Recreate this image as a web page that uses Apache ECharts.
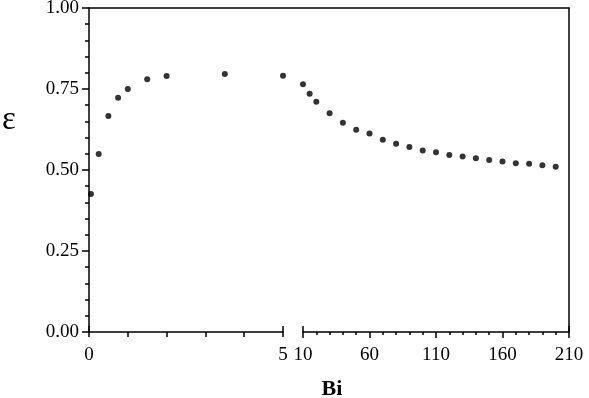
<!DOCTYPE html>
<html>
<head>
<meta charset="utf-8">
<script src="https://cdn.jsdelivr.net/npm/echarts@6/dist/echarts.min.js"></script>
<style>
  html, body { margin: 0; padding: 0; background: #fff; }
  #chart { width: 589px; height: 398px; }
</style>
</head>
<body>
<div id="chart"></div>
<script>
// left panel, Bi 0..5
const biLow = [0.05, 0.25, 0.5, 0.75, 1.0, 1.5, 2.0, 3.5, 5.0]
const epsLow = [0.426, 0.549, 0.667, 0.723, 0.750, 0.780, 0.790, 0.796, 0.791]
// right panel, Bi 10..210
const biHigh = [10, 15, 20, 30, 40, 50, 60, 70, 80, 90, 100, 110, 120, 130, 140, 150, 160, 170, 180, 190, 200]
const epsHigh = [0.765, 0.735, 0.711, 0.675, 0.646, 0.624, 0.613, 0.593, 0.581, 0.571, 0.560,
  0.555, 0.546, 0.542, 0.536, 0.531, 0.526, 0.521, 0.519, 0.515, 0.510]
const lowTickLabels = [0, 5]

const font = '"Liberation Serif", "Times New Roman", serif'
const ink = '#000'
const fontSize = 19

const chart = echarts.init(document.getElementById('chart'))

const lineStyle = { color: ink, width: 1.5 }

// hidden helper axis: only draws a line or ticks
const bare = extra => Object.assign({
  type: 'value',
  axisLine: { show: false, onZero: false },
  axisTick: { show: false },
  axisLabel: { show: false },
  splitLine: { show: false }
}, extra)

chart.setOption({
  animation: false,
  title: {
    text: 'ε', left: 2, top: 104, padding: 0,
    textStyle: { color: ink, fontFamily: font, fontSize: 33, fontWeight: 'normal' }
  },
  grid: [
    { left: 89, right: 306, top: 8, bottom: 66, outerBoundsMode: 'none' },
    { left: 303, right: 20, top: 8, bottom: 66, outerBoundsMode: 'none' },
    { left: 89, right: 20, top: 8, bottom: 66, outerBoundsMode: 'none' }
  ],
  xAxis: [
    {
      gridIndex: 0, type: 'value', position: 'bottom', min: 0, max: 5, interval: 1,
      axisLine: { lineStyle, onZero: false },
      axisTick: { length: 5, lineStyle },
      splitLine: { show: false },
      axisLabel: {
        color: ink, fontFamily: font, fontSize, margin: 14,
        formatter: v => lowTickLabels.includes(v) ? String(v) : ''
      }
    },
    {
      gridIndex: 1, type: 'value', position: 'bottom', min: 10, max: 210, interval: 50,
      axisLine: { lineStyle, onZero: false },
      axisTick: { length: 6, lineStyle },
      minorTick: { show: true, splitNumber: 5, length: 3, lineStyle },
      splitLine: { show: false },
      axisLabel: { color: ink, fontFamily: font, fontSize, margin: 14, showMinLabel: true, showMaxLabel: true }
    },
    // break caps (upward ticks at the ends of each piece)
    bare({ gridIndex: 0, position: 'bottom', min: 0, max: 5, interval: 5,
      axisTick: { show: true, inside: true, length: 6, lineStyle } }),
    bare({ gridIndex: 1, position: 'bottom', min: 10, max: 210, interval: 200,
      axisTick: { show: true, inside: true, length: 6, lineStyle } }),
    // frame top
    bare({ gridIndex: 2, position: 'top', min: 0, max: 1,
      axisLine: { show: true, onZero: false, lineStyle } }),
    // axis name
    bare({ gridIndex: 2, position: 'bottom', min: 0, max: 1,
      name: 'Bi', nameLocation: 'middle', nameGap: 46,
      nameTextStyle: { color: ink, fontFamily: font, fontSize: 22, fontWeight: 'bold', padding: [0, 0, 0, 6] } })
  ],
  yAxis: [
    {
      gridIndex: 0, type: 'value', position: 'left', min: 0, max: 1, interval: 0.25,
      axisLine: { lineStyle, onZero: false },
      axisTick: { length: 7, lineStyle },
      minorTick: { show: true, splitNumber: 5, length: 4, lineStyle },
      splitLine: { show: false },
      axisLabel: { color: ink, fontFamily: font, fontSize, margin: 10, formatter: v => v.toFixed(2) }
    },
    bare({ gridIndex: 1, min: 0, max: 1 }),
    // frame right
    bare({ gridIndex: 2, position: 'right', min: 0, max: 1,
      axisLine: { show: true, onZero: false, lineStyle } })
  ],
  series: [
    {
      type: 'scatter', xAxisIndex: 0, yAxisIndex: 0,
      data: biLow.map((b, i) => [b, epsLow[i]]),
      symbolSize: 6, itemStyle: { color: ink }
    },
    {
      type: 'scatter', xAxisIndex: 1, yAxisIndex: 1,
      data: biHigh.map((b, i) => [b, epsHigh[i]]),
      symbolSize: 6, itemStyle: { color: ink }
    }
  ]
})
</script>
</body>
</html>
